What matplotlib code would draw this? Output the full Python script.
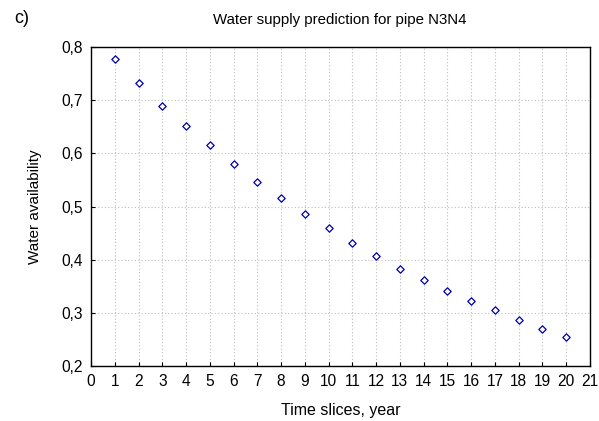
import matplotlib
matplotlib.use("Agg")
import matplotlib.pyplot as plt
from matplotlib.ticker import FuncFormatter

years = list(range(1, 21))
availability = [0.777, 0.732, 0.689, 0.651, 0.616, 0.580, 0.546, 0.516, 0.486, 0.460,
                0.431, 0.407, 0.383, 0.362, 0.341, 0.322, 0.305, 0.287, 0.270, 0.255]
x_ticks = list(range(0, 22))
y_ticks = [0.2, 0.3, 0.4, 0.5, 0.6, 0.7, 0.8]

plt.rcParams['font.family'] = ['Liberation Sans', 'DejaVu Sans']

fig = plt.figure(figsize=(5.99, 4.21), dpi=100)
ax = fig.add_axes([0.152, 0.131, 0.833, 0.757])
ax.scatter(years, availability, marker='D', s=14, facecolors='white',
           edgecolors='#0000b0', linewidths=0.9, zorder=3)
ax.set_xlim(0, 21)
ax.set_ylim(0.2, 0.8)
ax.set_xticks(x_ticks)
ax.set_yticks(y_ticks)
ax.yaxis.set_major_formatter(FuncFormatter(lambda v, p: f"{v:.1f}".replace('.', ',')))
ax.grid(True, color='#bdbdbd', linestyle=(0, (1, 2)), linewidth=0.8)
ax.tick_params(direction='in', length=3, labelsize=11.2, width=0.8, pad=6)
for s in ax.spines.values():
    s.set_linewidth(1.0)
    s.set_color('black')
ax.set_xlabel("Time slices, year", fontsize=11.5, labelpad=10)
ax.set_ylabel("Water availability", fontsize=11, labelpad=14)
fig.text(0.568, 0.952, "Water supply prediction for pipe N3N4", ha='center', va='center', fontsize=10.8)
fig.text(0.037, 0.955, "c)", ha='center', va='center', fontsize=13)
fig.savefig("out.png", dpi=100)
